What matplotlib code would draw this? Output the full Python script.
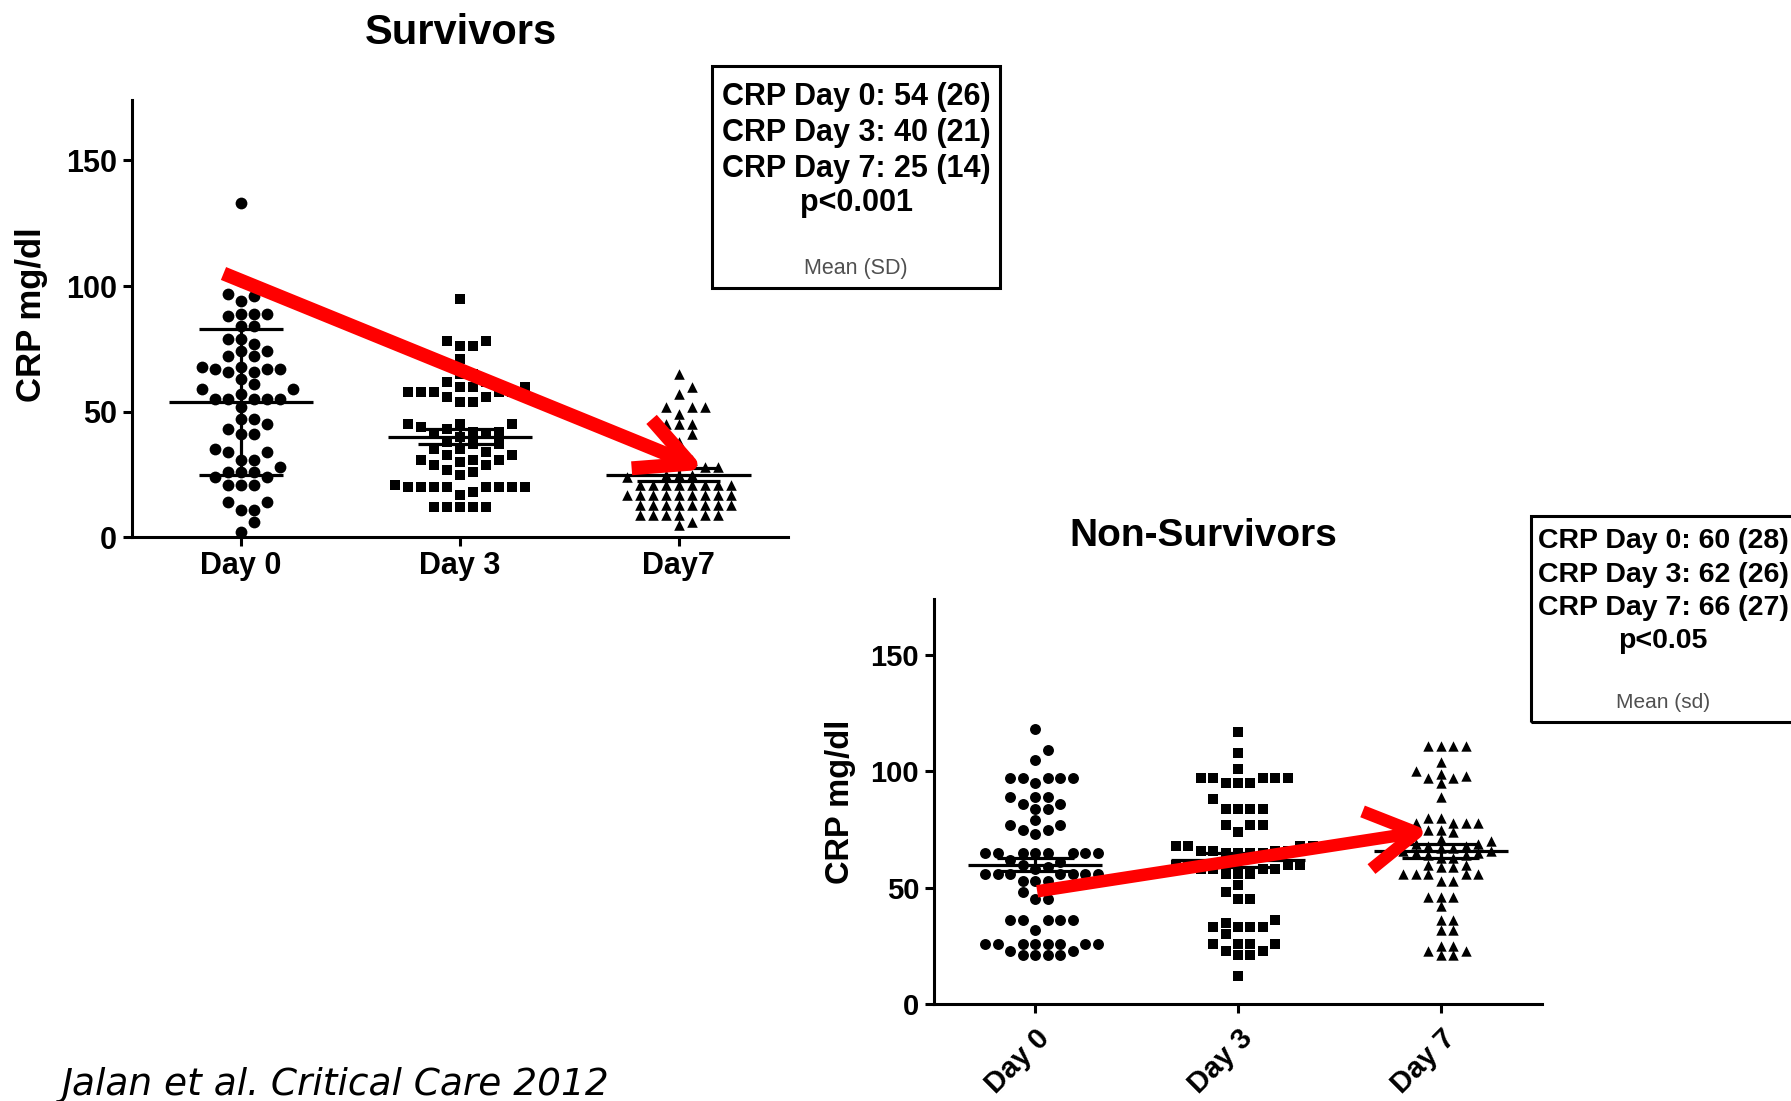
import numpy as np
import matplotlib.pyplot as plt
from matplotlib.patches import Rectangle, FancyArrowPatch

plt.rcParams['font.family'] = 'Liberation Sans'

# CRP (mg/dl) per patient, survivors
surv_labels = ['Day 0', 'Day 3', 'Day7']
surv_day0 = [133, 102, 97, 96, 94, 89, 89, 89, 88, 84, 84, 79, 79, 77, 74, 74,
             72, 72, 68, 68, 67, 67, 67, 66, 66, 63, 61, 59, 59, 57, 55, 55,
             55, 55, 55, 52, 47, 47, 45, 43, 41, 41, 35, 34, 34, 31, 31, 28,
             26, 26, 26, 24, 24, 21, 21, 21, 14, 14, 11, 11, 6, 2]
surv_day3 = [95, 78, 78, 76, 76, 71, 65, 65, 62, 62, 60, 60, 60, 58, 58, 58,
             58, 58, 56, 56, 54, 54, 45, 45, 45, 44, 43, 42, 42, 41, 41, 40,
             38, 37, 37, 35, 35, 34, 33, 33, 31, 31, 31, 30, 29, 29, 27, 26,
             25, 21, 20, 20, 20, 20, 20, 20, 20, 20, 18, 17, 12, 12, 12, 12, 12]
surv_day7 = [65, 60, 57, 52, 52, 52, 49, 45, 45, 45, 41, 41, 38, 31, 30, 28,
             28, 28, 25, 25, 25, 24, 21, 21, 21, 21, 21, 21, 21, 21, 17, 17,
             17, 17, 17, 17, 17, 17, 17, 13, 13, 13, 13, 13, 13, 13, 13, 9,
             9, 9, 9, 9, 9, 6, 5]
surv_mean = [54, 40, 25]
surv_sd = [26, 21, 14]
surv_bar = [29, 3, 2.5]      # half length of the plotted error bars
surv_p = 'p<0.001'

# CRP (mg/dl) per patient, non-survivors
non_labels = ['Day 0', 'Day 3', 'Day 7']
non_day0 = [118, 109, 105, 97, 97, 97, 97, 97, 95, 89, 89, 89, 86, 86, 84, 84,
            79, 77, 77, 75, 75, 73, 65, 65, 65, 65, 65, 65, 65, 65, 62, 61,
            60, 59, 58, 56, 56, 56, 56, 56, 56, 56, 53, 53, 53, 48, 45, 45,
            36, 36, 36, 36, 36, 32, 26, 26, 26, 26, 26, 26, 26, 26, 23, 23,
            21, 21, 21, 21]
non_day3 = [117, 108, 101, 97, 97, 97, 97, 97, 95, 95, 95, 88, 84, 84, 84, 84,
            77, 77, 77, 74, 68, 68, 68, 68, 66, 66, 66, 66, 65, 65, 65, 65,
            60, 60, 60, 60, 58, 58, 58, 58, 56, 56, 56, 51, 48, 45, 45, 36,
            35, 33, 33, 33, 33, 30, 26, 26, 26, 26, 23, 23, 21, 21, 12]
non_day7 = [111, 111, 111, 111, 104, 100, 99, 98, 97, 97, 95, 89, 80, 80, 78,
            78, 78, 78, 75, 75, 74, 71, 70, 70, 69, 69, 68, 68, 67, 67, 66, 66,
            65, 65, 64, 64, 63, 63, 60, 60, 59, 59, 56, 56, 56, 56, 56, 53, 53,
            46, 46, 46, 42, 36, 36, 32, 32, 25, 25, 23, 23, 21, 21]
non_mean = [60, 62, 66]
non_sd = [28, 26, 27]
non_bar = [3, 3, 3]
non_p = 'p<0.05'

W, H = 1791, 1101
YMAX = 174


def px_box(left, top, right, bottom):
    "Figure-fraction rect from pixel edges"
    return [left / W, 1 - bottom / H, (right - left) / W, (bottom - top) / H]


def swarm(values, unit_px, slot, diam):
    """Horizontal offset for each point so markers do not overlap

    Args:
        values: data values of one column
        unit_px: pixels per data unit on the y axis
        slot: spacing between neighbouring slots (data x units)
        diam: vertical clearance needed between markers (pixels)
    """
    vals = np.asarray(values, float)
    offs = np.zeros(len(vals))
    placed = []
    cands = [0] + [s for n in range(1, 30) for s in (n, -n)]
    for i in np.argsort(vals):
        y = vals[i] * unit_px
        for c in cands:
            if all(c != pc or abs(y - py) >= diam for pc, py in placed):
                break
        placed.append((c, y))
        offs[i] = c * slot
    return offs


def column_plot(ax, columns, markers, sizes, diams, means, bars, labels,
                unit_px, slot, fs):
    for i, vals in enumerate(columns):
        x = i + swarm(vals, unit_px, slot, diams[i])
        ax.scatter(x, vals, marker=markers[i], s=sizes[i], color='black',
                   linewidths=0, zorder=2)
        ax.hlines(means[i], i - 0.33, i + 0.33, color='black', lw=2.3,
                  zorder=3)
        ax.hlines([means[i] - bars[i], means[i] + bars[i]], i - 0.19,
                  i + 0.19, color='black', lw=2.3, zorder=3)
        ax.vlines(i, means[i] - bars[i], means[i] + bars[i], color='black',
                  lw=2.3, zorder=3)
    ax.set_xlim(-0.5, 2.5)
    ax.set_ylim(0, YMAX)
    for side in ('top', 'right'):
        ax.spines[side].set_visible(False)
    for side in ('left', 'bottom'):
        ax.spines[side].set_linewidth(2.2)
    ax.set_yticks([0, 50, 100, 150])
    ax.set_yticklabels(['0', '50', '100', '150'], fontweight='bold',
                       fontsize=fs)
    ax.set_xticks(range(len(labels)))
    ax.tick_params(direction='out', length=6.5, width=2.2)
    ax.tick_params(axis='y', pad=4)


fig = plt.figure(figsize=(W / 100, H / 100), dpi=100)

# survivors panel
ax_s = fig.add_axes(px_box(131.6, 100, 788, 537.5))
s_upx = 437.5 / YMAX
column_plot(ax_s, [surv_day0, surv_day3, surv_day7], ['o', 's', '^'],
            [72, 58, 58], [11, 10.5, 8.5], surv_mean, surv_bar, surv_labels,
            s_upx, 13 / 218.8, 22)
ax_s.set_xticklabels(surv_labels, fontweight='bold', fontsize=22)
ax_s.tick_params(axis='x', pad=3)
ax_s.set_ylabel('CRP mg/dl', fontweight='bold', fontsize=25)
ax_s.yaxis.set_label_coords(-0.127, 0.51)
arr = FancyArrowPatch((-0.08, 105), (2.12, 27),
                      arrowstyle='->,head_length=38,head_width=19',
                      mutation_scale=1, lw=10, color='#ff0000',
                      shrinkA=0, shrinkB=0, joinstyle='round',
                      capstyle='butt', zorder=5, clip_on=False)
ax_s.add_patch(arr)

# non-survivors panel
ax_n = fig.add_axes(px_box(933.7, 598.7, 1542.3, 1004.4))
n_upx = 405.7 / YMAX
column_plot(ax_n, [non_day0, non_day3, non_day7], ['o', 's', '^'],
            [62, 52, 56], [10.5, 10, 8.5], non_mean, non_bar, non_labels,
            n_upx, 12.5 / 202.9, 21)
ax_n.set_xticklabels(non_labels, fontweight='bold', fontsize=21,
                     rotation=45, ha='right', va='top',
                     rotation_mode='anchor')
ax_n.tick_params(axis='x', pad=8)
ax_n.set_ylabel('CRP mg/dl', fontweight='bold', fontsize=23.5)
ax_n.yaxis.set_label_coords(-0.127, 0.5)
arr = FancyArrowPatch((0.01, 48.5), (1.94, 74.5),
                      arrowstyle='->,head_length=36,head_width=21',
                      mutation_scale=1, lw=9, color='#ff0000',
                      shrinkA=0, shrinkB=0, joinstyle='round',
                      capstyle='butt', zorder=5, clip_on=False)
ax_n.add_patch(arr)

# panel titles
fig.text(460.5 / W, 1 - 33 / H, 'Survivors', ha='center', va='center',
         fontsize=30, fontweight='bold')
fig.text(1203 / W, 1 - 536.5 / H, 'Non-Survivors', ha='center',
         va='center', fontsize=28, fontweight='bold')


def stats_box(rect, cx, rows, means, sds, ptext, note, fs, note_fs):
    "Boxed summary of mean (sd) per day"
    fig.patches.append(Rectangle(rect[:2], rect[2], rect[3],
                                 transform=fig.transFigure, fill=False,
                                 lw=2.2, edgecolor='black'))
    lines = ['CRP Day {0}: {1} ({2})'.format(d, m, s)
             for d, m, s in zip([0, 3, 7], means, sds)] + [ptext]
    for txt, y in zip(lines, rows[:4]):
        fig.text(cx / W, 1 - y / H, txt, ha='center', va='center',
                 fontsize=fs, fontweight='bold')
    fig.text(cx / W, 1 - rows[4] / H, note, ha='center', va='center',
             fontsize=note_fs, color='#505050')


stats_box(px_box(711.6, 66.5, 1000, 288), 856,
          [97, 133, 169, 203, 268.5], surv_mean, surv_sd, surv_p,
          'Mean (SD)', 22, 15.5)
stats_box(px_box(1530.6, 516, 1800, 722), 1663,
          [541.4, 574.5, 607.7, 640.8, 702.5], non_mean, non_sd, non_p,
          'Mean (sd)', 20.5, 15)

fig.text(61 / W, 1 - 1095 / H, 'Jalan et al. Critical Care 2012',
         family='DejaVu Sans', style='italic', fontsize=27, va='baseline')

fig.savefig('out.png', dpi=100)
